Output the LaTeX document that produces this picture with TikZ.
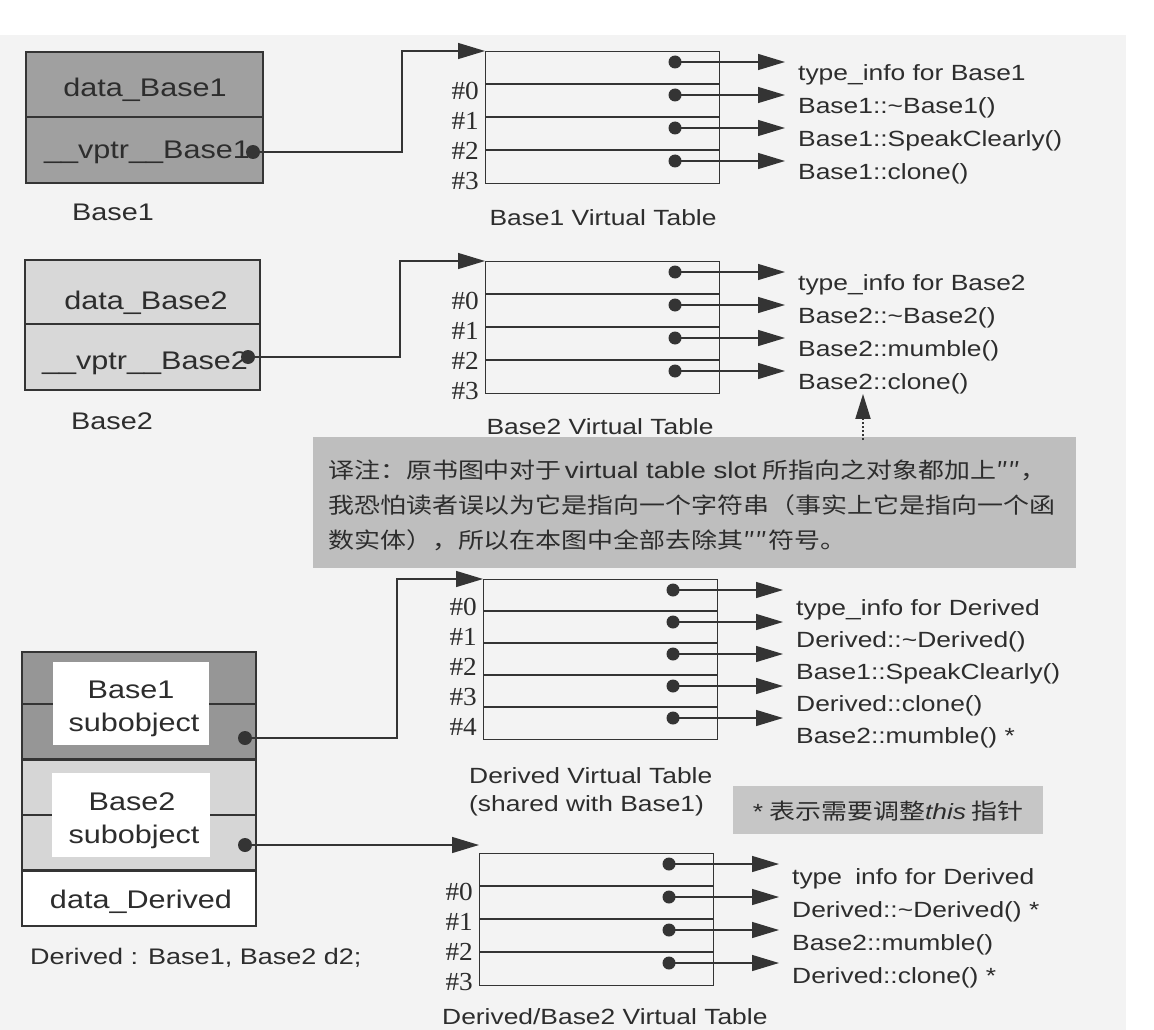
\documentclass[tikz,border=0pt]{standalone}
\usepackage{fontspec}
\setmainfont{Liberation Sans}
\newfontfamily\lab[FakeStretch=1.2]{Liberation Sans}
\newfontfamily\serf[FakeStretch=1.05]{Liberation Serif}
\newfontfamily\cjk[FakeStretch=1.18]{Noto Sans CJK SC}
\usetikzlibrary{arrows.meta,calc}
\definecolor{bgc}{RGB}{243,243,243}
\definecolor{lc}{RGB}{52,52,52}
\definecolor{tc}{RGB}{45,45,45}
\definecolor{b1c}{RGB}{160,160,160}
\definecolor{b2c}{RGB}{216,216,216}
\definecolor{d1c}{RGB}{150,150,150}
\definecolor{d2c}{RGB}{214,214,214}
\definecolor{notec}{RGB}{190,190,190}
\definecolor{footc}{RGB}{198,198,198}
\tikzset{
  tbl/.style={draw=lc, line width=1.4pt, anchor=north west, inner sep=0pt},
  objbox/.style={draw=lc, line width=1.6pt, anchor=north west, inner sep=0pt, minimum width=235pt},
  sep/.style={draw=lc, line width=2.3pt},
  ptr/.style={draw=lc, line width=1.3pt, -{Triangle[length=27pt,width=16pt]}},
  dptr/.style={draw=lc, line width=2pt, dotted, -{Triangle[length=25pt,width=15pt]}},
  vdot/.style={circle, fill=lc, inner sep=0pt, minimum size=13pt},
  odot/.style={circle, fill=lc, inner sep=0pt, minimum size=14pt},
  lbl/.style={font=\lab\fontsize{22}{26}\selectfont, text=tc, anchor=west, inner sep=0pt},
  vcap/.style={font=\lab\fontsize{22}{26}\selectfont, text=tc, inner sep=0pt},
  num/.style={font=\serf\fontsize{26}{28}\selectfont, text=tc, anchor=east, inner sep=0pt},
  objtxt/.style={font=\lab\fontsize{25.5}{30}\selectfont, text=tc, inner sep=0pt},
  ocap/.style={font=\lab\fontsize{24}{28}\selectfont, text=tc, inner sep=0pt},
  cjktxt/.style={font=\cjk\fontsize{22}{26}\selectfont, text=tc, inner sep=0pt, anchor=west},
}
\newcommand{\vtable}[6]{%
  \node[tbl, minimum width=234pt, minimum height={#4*#5}] (#1) at (#2,#3) {};%
  \pgfmathtruncatemacro\vlast{#5-1}%
  \foreach \k in {1,...,\vlast}{\draw[sep] ($(#1.north west)+(0,\k*#4)$) -- ($(#1.north east)+(0,\k*#4)$);}%
  \foreach \k in {0,...,\vlast}{%
    \node[num] (#1n\k) at ($(#1.north west)+(-6,#6+30*\k)$) {\#\k};%
    \node[vdot] (#1d\k) at ($(#1.north west)+(190,11+#4*\k)$) {};%
    \coordinate (#1t\k) at ($(#1.north west)+(300,11+#4*\k)$);%
    \draw[ptr] (#1d\k.center) -- (#1t\k);%
  }%
}
\begin{document}
\begin{tikzpicture}[x=1pt,y=-1pt]
\useasboundingbox (0,0) rectangle (1154,1030);
\fill[bgc] (0,35) rectangle (1126,1030);

% ---------- Base1 object ----------
\node[objbox, fill=b1c, minimum width=237pt, minimum height=131pt] (B1) at (25,51) {};
\draw[sep] (25,117) -- (262,117);
\node[objtxt] (B1data) at (145,90) {data\_Base1};
\node[objtxt] (B1vptr) at (147,152) {\_\_vptr\_\_Base1};
\node[odot] (B1dot) at (253,152) {};
\node[ocap] (B1cap) at (113,212) {Base1};

% ---------- Base1 vtable ----------
\vtable{VA}{485}{51}{33}{4}{40}
\foreach \k/\s in {0/type\_info for Base1, 1/Base1::\textasciitilde Base1(), 2/Base1::SpeakClearly(), 3/Base1::clone()}
  \node[lbl] (VAl\k) at ($(VAt\k)+(13,12.5)$) {\s};
\node[vcap] (VAcap) at (603,218) {Base1 Virtual Table};
\coordinate (B1bend) at (402,51);
\draw[ptr] (B1dot.center) -| (B1bend) -- (VA.north west);

% ---------- Base2 object ----------
\node[objbox, fill=b2c, minimum width=235pt, minimum height=130pt] (B2) at (24,259) {};
\draw[sep] (24,324) -- (259,324);
\node[objtxt] (B2data) at (146,303) {data\_Base2};
\node[objtxt] (B2vptr) at (145,363) {\_\_vptr\_\_Base2};
\node[odot] (B2dot) at (248,357) {};
\node[ocap] (B2cap) at (112,421) {Base2};

% ---------- Base2 vtable ----------
\vtable{VB}{485}{261}{33}{4}{40}
\foreach \k/\s in {0/type\_info for Base2, 1/Base2::\textasciitilde Base2(), 2/Base2::mumble(), 3/Base2::clone()}
  \node[lbl] (VBl\k) at ($(VBt\k)+(13,12.5)$) {\s};
\node[vcap] (VBcap) at (600,427) {Base2 Virtual Table};
\coordinate (B2bend) at (400,261);
\draw[ptr] (B2dot.center) -| (B2bend) -- (VB.north west);

% ---------- translator's note ----------
\node[fill=notec, anchor=north west, inner sep=0pt, minimum width=763pt, minimum height=131pt] (Note) at (313,437) {};
\node[cjktxt] (N1) at (328,470) {译注：原书图中对于\hspace{3pt}{\lab\fontsize{23}{26}\selectfont virtual table slot}\hspace{6pt}所指向之对象都加上″″，};
\node[cjktxt] (N2) at (328,505) {我恐怕读者误以为它是指向一个字符串（事实上它是指向一个函};
\node[cjktxt] (N3) at (328,540) {数实体），所以在本图中全部去除其″″符号。};
\coordinate (nA) at (863,440);
\draw[dptr] (nA) -- (nA |- VBl3.south);

% ---------- Derived object ----------
\node[objbox, fill=d1c, minimum width=234pt, minimum height=108pt] (D1) at (21,651) {};
\node[objbox, fill=d2c, minimum width=234pt, minimum height=111pt] (D2) at (21,759) {};
\node[objbox, fill=white, minimum width=234pt, minimum height=55pt] (D3) at (21,870) {};
\draw[sep] (21,704) -- (255,704);
\draw[sep] (21,815) -- (255,815);
\draw[sep] (21,759) -- (255,759);
\draw[sep] (21,870) -- (255,870);
\fill[white] (53,662) rectangle (209,745);
\fill[white] (52,773) rectangle (210,857);
\node[objtxt] (D1a) at (131,690) {Base1};
\node[objtxt] (D1b) at (134,725) {subobject};
\node[objtxt] (D2a) at (132,802) {Base2};
\node[objtxt] (D2b) at (134,837) {subobject};
\node[objtxt] (D3a) at (141,902) {data\_Derived};
\node[odot] (D1dot) at (245,738) {};
\node[odot] (D2dot) at (245,845) {};
\node[font=\lab\fontsize{22.5}{26}\selectfont, text=tc, inner sep=0pt, anchor=west] (Dcap) at (30,958) {Derived : Base1, Base2 d2;};

% ---------- Derived vtable (shared with Base1) ----------
\vtable{VC}{483}{579}{32}{5}{28}
\foreach \k/\s in {0/type\_info for Derived, 1/Derived::\textasciitilde Derived(), 2/Base1::SpeakClearly(), 3/Derived::clone(), 4/Base2::mumble() *}
  \node[lbl] (VCl\k) at ($(VCt\k)+(13,20)$) {\s};
\node[vcap, anchor=west] (VCcap1) at (469,776) {Derived Virtual Table};
\node[vcap, anchor=west] (VCcap2) at (469,806) {(shared with Base1)};
\coordinate (D1bend) at (397,579);
\draw[ptr] (D1dot.center) -| (D1bend) -- (VC.north west);

% ---------- footnote ----------
\node[fill=footc, anchor=north west, inner sep=0pt, minimum width=310pt, minimum height=48pt] (Foot) at (733,786) {};
\node[cjktxt, anchor=center] (FootT) at (888,811) {{\lab *}\hspace{6pt}表示需要调整{\lab\itshape this}\hspace{5pt}指针};

% ---------- Derived/Base2 vtable ----------
\vtable{VD}{479}{853}{33}{4}{39}
\foreach \k/\s in {0/type\hspace{0.6em}info for Derived, 1/Derived::\textasciitilde Derived() *, 2/Base2::mumble(), 3/Derived::clone() *}
  \node[lbl] (VDl\k) at ($(VDt\k)+(13,15)$) {\s};
\node[vcap, anchor=west] (VDcap) at (442,1017) {Derived/Base2 Virtual Table};
\draw[ptr] (D2dot.center) -- (D2dot -| VD.north west);
\end{tikzpicture}
\end{document}
